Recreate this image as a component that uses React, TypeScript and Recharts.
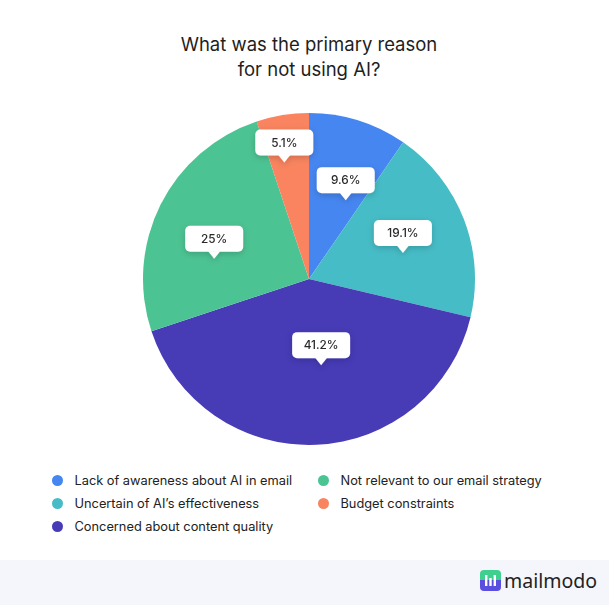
import React from 'react';
import { PieChart, Pie, Cell, Legend } from 'recharts';

const reasons = [
  'Lack of awareness about AI in email',
  'Uncertain of AI\u2019s effectiveness',
  'Concerned about content quality',
  'Not relevant to our email strategy',
  'Budget constraints',
];
const shares = [9.6, 19.1, 41.2, 25, 5.1];
const colors = ['#4686f0', '#46bcc6', '#473bb6', '#4cc393', '#f9845f'];

const chartData = reasons.map((name, i) => ({ name, value: shares[i] }));

const RAD = Math.PI / 180;
// callout placement tweaks per slice: [radius factor, clockwise angle nudge in degrees]
const calloutPlace = [[0.524, 7.7], [0.587, 5.6], [0.524, -5.5], [0.584, -14.6], [0.717, -2.8]];

const Callout = (props: any) => {
  const { cx, cy, midAngle, outerRadius, value, index } = props;
  const [f, nudge] = calloutPlace[index] || [0.58, 0];
  const r = outerRadius * f;
  const a = midAngle - nudge;
  const tipX = cx + r * Math.cos(-a * RAD);
  const tipY = cy + r * Math.sin(-a * RAD);
  const w = 58;
  const h = 26;
  const top = tipY - 7 - h;
  return (
    <g filter="url(#calloutShadow)">
      <rect x={tipX - w / 2} y={top} width={w} height={h} rx={5} fill="#fff" />
      <polygon points={`${tipX - 6},${tipY - 7.5} ${tipX + 6},${tipY - 7.5} ${tipX},${tipY}`} fill="#fff" />
      <text x={tipX} y={top + h / 2 + 4} textAnchor="middle" fontSize={11.8} fontWeight={500} fill="#2a2a2a"
        style={{ fontFamily: 'Inter, sans-serif' }}>
        {value}%
      </text>
    </g>
  );
};

const LegendBox = () => (
  <div style={{
    display: 'grid', gridTemplateRows: 'repeat(3, 23px)', gridAutoFlow: 'column',
    gridTemplateColumns: '266px 260px', fontFamily: 'Inter, sans-serif', fontSize: 12.8, color: '#222',
  }}>
    {reasons.map((name, i) => (
      <div key={name} style={{ display: 'flex', alignItems: 'center' }}>
        <span style={{ width: 11, height: 11, borderRadius: 6, background: colors[i], marginRight: 12, flexShrink: 0 }} />
        {name}
      </div>
    ))}
  </div>
);

export default function App() {
  return (
    <div style={{ position: 'relative', width: 609, height: 605, background: '#fff', fontFamily: 'Inter, sans-serif' }}>
      <style>{'body{margin:0}'}</style>
      <div style={{ position: 'absolute', top: 32, left: 0, width: 618, textAlign: 'center', fontSize: 18.5, lineHeight: '25px', color: '#1e1e1e' }}>
        What was the primary reason<br />for not using AI?
      </div>
      <div style={{ position: 'absolute', top: 0, left: 0 }}>
        <PieChart width={609} height={560} margin={{ top: 0, right: 0, bottom: 0, left: 0 }}>
          <defs>
            <filter id="calloutShadow" x="-30%" y="-30%" width="160%" height="180%">
              <feDropShadow dx="0" dy="2" stdDeviation="3" floodColor="#000" floodOpacity="0.18" />
            </filter>
          </defs>
          <Pie data={chartData} dataKey="value" nameKey="name" cx={309} cy={279} outerRadius={166}
            startAngle={90} endAngle={-270} stroke="none" label={Callout} labelLine={false}
            isAnimationActive={false}>
            {chartData.map((d, i) => <Cell key={d.name} fill={colors[i]} />)}
          </Pie>
          <Legend content={() => <LegendBox />} wrapperStyle={{ position: 'absolute', left: 51.5, top: 469, width: 540 }} />
        </PieChart>
      </div>
      <div style={{ position: 'absolute', left: 0, top: 560, width: 609, height: 45, background: '#f5f6fb' }}>
        <div style={{ position: 'absolute', left: 480, top: 10, display: 'flex', alignItems: 'center' }}>
          <svg width={21} height={21} viewBox="0 0 21 21">
            <defs>
              <linearGradient id="logoGrad" x1="0" y1="0" x2="0" y2="1">
                <stop offset="0.5" stopColor="#3fcf8e" />
                <stop offset="0.5" stopColor="#5b4fe0" />
              </linearGradient>
            </defs>
            <rect width={21} height={21} rx={4} fill="url(#logoGrad)" />
            <rect x={5} y={5} width={2.4} height={11} fill="#fff" />
            <rect x={9.3} y={8} width={2.4} height={8} fill="#fff" />
            <rect x={13.6} y={5} width={2.4} height={11} fill="#fff" />
          </svg>
          <span style={{ marginLeft: 3, fontFamily: '"Noto Sans", sans-serif', fontSize: 19.5, color: '#222', lineHeight: '21px' }}>mailmodo</span>
        </div>
      </div>
    </div>
  );
}
